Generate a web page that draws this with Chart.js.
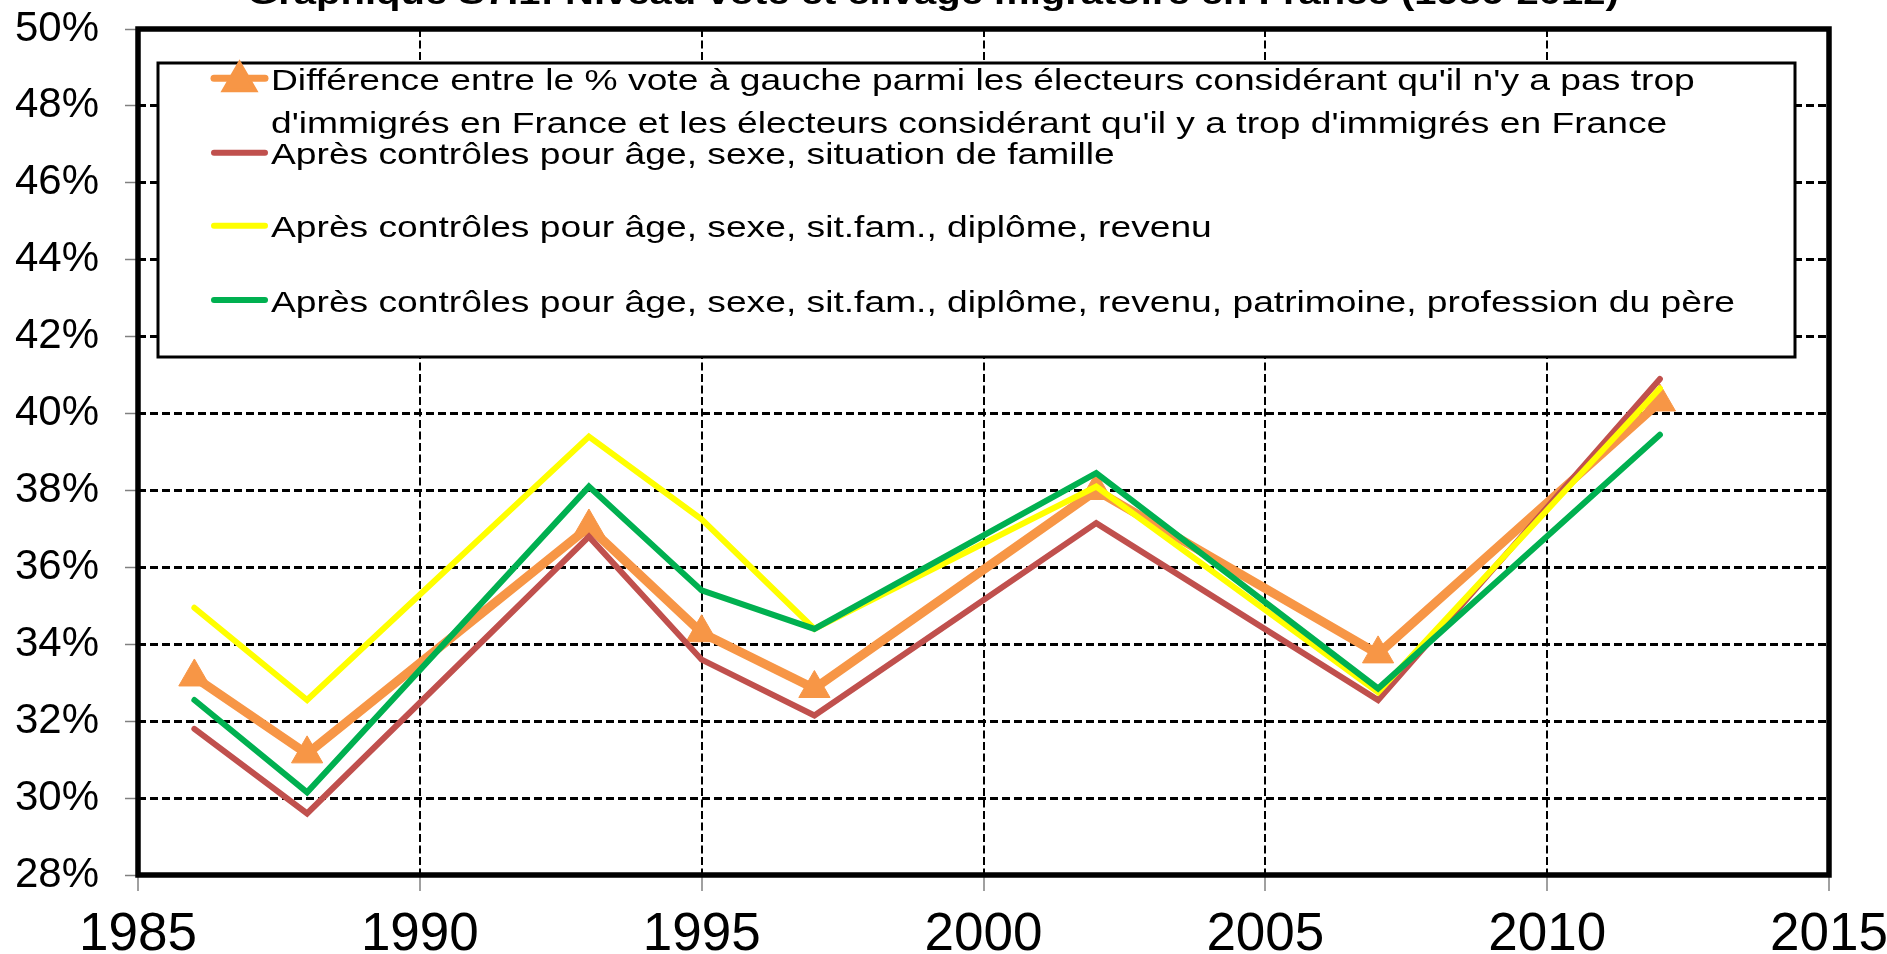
<!DOCTYPE html>
<html>
<head>
<meta charset="utf-8">
<script src="https://cdn.jsdelivr.net/npm/chart.js@4.4.0/dist/chart.umd.min.js"></script>
<style>
html,body{margin:0;padding:0;background:#fff;overflow:hidden}
#wrap{position:relative;width:1887px;height:954px}
canvas{display:block}
</style>
</head>
<body>
<div id="wrap"><canvas id="c" width="1887" height="954"></canvas></div>
<script>
// ---- data ----
const years = [1986, 1988, 1993, 1995, 1997, 2002, 2007, 2012];
const diffBrute         = [33.15, 31.15, 37.05, 34.3, 32.85, 38.0, 33.75, 40.3];
const ctrlAgeSexeFam    = [31.8, 29.6, 36.8, 33.6, 32.15, 37.15, 32.55, 40.9];
const ctrlDiplomeRevenu = [34.95, 32.55, 39.4, 37.25, 34.4, 38.1, 32.75, 40.65];
const ctrlPatrimoinePere= [32.55, 30.15, 38.1, 35.4, 34.4, 38.45, 32.85, 39.45];
const xTicks = [1985, 1990, 1995, 2000, 2005, 2010, 2015];
const yTicks = [28, 30, 32, 34, 36, 38, 40, 42, 44, 46, 48, 50];
const seriesLabels = [
  ["Différence entre le % vote à gauche parmi les électeurs considérant qu'il n'y a pas trop",
   "d'immigrés en France et les électeurs considérant qu'il y a trop d'immigrés en France"],
  ["Après contrôles pour âge, sexe, situation de famille"],
  ["Après contrôles pour âge, sexe, sit.fam., diplôme, revenu"],
  ["Après contrôles pour âge, sexe, sit.fam., diplôme, revenu, patrimoine, profession du père"]
];
const titleText = "Graphique S7.1: Niveau vote et clivage migratoire en France (1986-2012)";

const FONT = '"Liberation Sans", Arial, sans-serif';
const toPts = arr => years.map((y, i) => ({x: y, y: arr[i]}));
const colors = ['#F79646', '#C0504D', '#FFFF00', '#00B050'];

function stretchText(ctx, text, x, y, sx, align) {
  ctx.save();
  ctx.translate(x, y);
  ctx.scale(sx, 1);
  ctx.textAlign = align;
  ctx.fillText(text, 0, 0);
  ctx.restore();
}

const titlePlugin = {
  id: 'cutTitle',
  afterDraw(chart) {
    const ctx = chart.ctx;
    ctx.save();
    ctx.font = 'bold 32px ' + FONT;
    ctx.fillStyle = '#000';
    ctx.textBaseline = 'alphabetic';
    stretchText(ctx, titleText, 933, 4, 1.25, 'center');
    ctx.restore();
  }
};

const framePlugin = {
  id: 'frame',
  beforeDatasetsDraw(chart) {
    const a = chart.chartArea, ctx = chart.ctx;
    ctx.save();
    ctx.lineWidth = 5.5;
    ctx.strokeStyle = '#000';
    ctx.strokeRect(a.left, a.top, a.right - a.left, a.bottom - a.top);
    ctx.restore();
  }
};

const legendPlugin = {
  id: 'boxLegend',
  afterDatasetsDraw(chart) {
    const ctx = chart.ctx;
    ctx.save();
    ctx.fillStyle = '#fff';
    ctx.fillRect(158, 63, 1637, 294);
    ctx.lineWidth = 3;
    ctx.strokeStyle = '#000';
    ctx.strokeRect(158, 63, 1637, 294);
    const sampleY = [78.3, 152.7, 225.7, 300];
    const baselines = [[90, 133.3], [164], [237.3], [311.7]];
    chart.data.datasets.forEach((ds, i) => {
      ctx.beginPath();
      ctx.lineCap = 'round';
      ctx.lineWidth = Math.min(ds.borderWidth, 7);
      ctx.strokeStyle = ds.borderColor;
      ctx.moveTo(214, sampleY[i]);
      ctx.lineTo(265, sampleY[i]);
      ctx.stroke();
      if (ds.pointStyle === 'triangle') {
        Chart.helpers.drawPoint(ctx, {pointStyle: 'triangle', radius: 15, borderWidth: 1, rotation: 0}, 239.5, sampleY[i] + 3);
        ctx.fillStyle = ds.pointBackgroundColor;
        ctx.fill();
      }
      ctx.fillStyle = '#000';
      ctx.font = '30px ' + FONT;
      ctx.textBaseline = 'alphabetic';
      seriesLabels[i].forEach((t, k) => stretchText(ctx, t, 271, baselines[i][k], 1.24, 'left'));
    });
    ctx.restore();
  }
};

new Chart(document.getElementById('c'), {
  type: 'line',
  data: {
    datasets: [
      {label: seriesLabels[0].join(' '), data: toPts(diffBrute), borderColor: colors[0], borderWidth: 9,
       pointStyle: 'triangle', pointRadius: 18, pointBorderWidth: 1, pointBackgroundColor: colors[0], pointBorderColor: colors[0], order: 4},
      {label: seriesLabels[1][0], data: toPts(ctrlAgeSexeFam), borderColor: colors[1], borderWidth: 6, pointRadius: 0, order: 3},
      {label: seriesLabels[2][0], data: toPts(ctrlDiplomeRevenu), borderColor: colors[2], borderWidth: 6, pointRadius: 0, order: 2},
      {label: seriesLabels[3][0], data: toPts(ctrlPatrimoinePere), borderColor: colors[3], borderWidth: 6, pointRadius: 0, order: 1}
    ]
  },
  options: {
    responsive: false,
    animation: false,
    events: [],
    layout: {padding: {top: 29, right: 58, left: 0, bottom: 0}},
    elements: {line: {tension: 0, fill: false, borderCapStyle: 'round', borderJoinStyle: 'miter'}},
    plugins: {legend: {display: false}, tooltip: {enabled: false}, title: {display: false}},
    scales: {
      x: {
        type: 'linear', min: 1985, max: 2015,
        afterBuildTicks: s => { s.ticks = xTicks.map(v => ({value: v})); },
        afterFit: s => { s.height = 79; s.paddingLeft = 0; s.paddingRight = 0; },
        ticks: {color: '#000', font: {family: FONT, size: 53, lineHeight: 1}, padding: 18, maxRotation: 0, autoSkip: false,
                callback: v => String(v)},
        grid: {color: '#000', lineWidth: 2, drawTicks: true, tickLength: 16, tickColor: '#808080', tickWidth: 1.5, tickBorderDash: []},
        border: {display: false, dash: [8, 3.5]}
      },
      y: {
        type: 'linear', min: 28, max: 50,
        afterBuildTicks: s => { s.ticks = yTicks.map(v => ({value: v})); },
        afterFit: s => { s.width = 138; s.paddingTop = 0; s.paddingBottom = 0; },
        ticks: {color: '#000', font: {family: FONT, size: 42, lineHeight: 1}, padding: 26,
                callback: v => v + '%'},
        grid: {color: '#000', lineWidth: 3, drawTicks: true, tickLength: 13, tickColor: '#808080', tickWidth: 1.5, tickBorderDash: []},
        border: {display: false, dash: [8, 4]}
      }
    }
  },
  plugins: [framePlugin, legendPlugin, titlePlugin]
});
</script>
</body>
</html>
